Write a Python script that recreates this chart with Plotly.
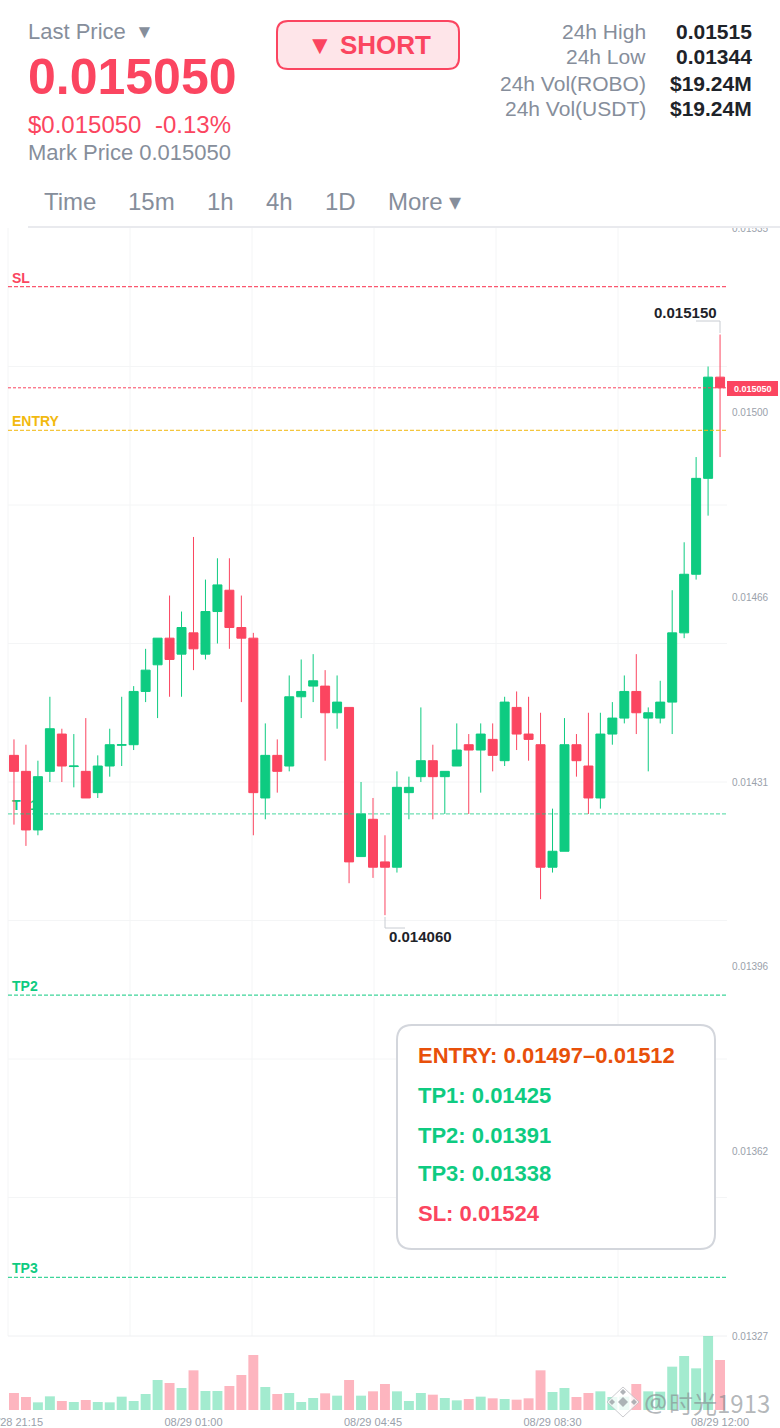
"""
ROBO/USDT 15m candles with short-signal levels, phone screenshot layout.
Output: out.html
"""

import pandas as pd
import plotly.graph_objects as go
from plotly.subplots import make_subplots

W, H = 780, 1428

# ── Palette ──────────────────────────────────────────────────
UP = '#0ecb81'
DOWN = '#fb4560'
UP_VOL = 'rgba(14,203,129,0.38)'
DOWN_VOL = 'rgba(251,69,96,0.40)'
YELLOW = '#f2b90f'
ORANGE = '#e8500a'
GRAY = '#868e9b'
AXIS_GRAY = '#9aa1ab'
DARK = '#1e2329'
GRID = '#f4f5f6'
FONT = 'Liberation Sans'

# ── Data ─────────────────────────────────────────────────────
TIMES = pd.date_range('2025-08-28 21:15', periods=60, freq='15min')

OPEN = [
    0.01436, 0.01433, 0.01422, 0.01433, 0.01440, 0.014339, 0.01433, 0.01429, 0.01434, 0.014379,
    0.01438, 0.01448, 0.01453, 0.01458, 0.01455, 0.01459, 0.01455, 0.01463, 0.01467, 0.01460,
    0.01458, 0.01428, 0.01436, 0.01434, 0.01447, 0.01449, 0.01449, 0.01444, 0.01445, 0.01417,
    0.01424, 0.01416, 0.01415, 0.01429, 0.01432, 0.01435, 0.01432, 0.01434, 0.01438, 0.01437,
    0.01439, 0.01435, 0.01445, 0.01440, 0.01438, 0.01415, 0.01418, 0.01438, 0.01434, 0.01428,
    0.01440, 0.01443, 0.01448, 0.01443, 0.01443, 0.01446, 0.01459, 0.01470, 0.01488, 0.01507,
]
HIGH = [
    0.01439, 0.01438, 0.01435, 0.01447, 0.01441, 0.01440, 0.01443, 0.01436, 0.01441, 0.01447,
    0.01449, 0.01456, 0.01458, 0.01466, 0.01463, 0.01477, 0.01469, 0.01473, 0.01473, 0.01466,
    0.01459, 0.01442, 0.01439, 0.01451, 0.01454, 0.01455, 0.01452, 0.01451, 0.01445, 0.01431,
    0.01428, 0.01421, 0.01433, 0.01432, 0.01445, 0.01438, 0.01433, 0.01442, 0.01440, 0.01442,
    0.01442, 0.01447, 0.01448, 0.01447, 0.01444, 0.01426, 0.01443, 0.01440, 0.01444, 0.01444,
    0.01446, 0.01451, 0.01455, 0.01445, 0.01450, 0.01467, 0.01476, 0.01492, 0.01509, 0.01515,
]
LOW = [
    0.01423, 0.01419, 0.01421, 0.01431, 0.01431, 0.01430, 0.01428, 0.01428, 0.01432, 0.01434,
    0.01437, 0.01446, 0.01443, 0.01447, 0.01447, 0.01452, 0.01454, 0.01457, 0.01456, 0.01446,
    0.01421, 0.01424, 0.01429, 0.01433, 0.01443, 0.01446, 0.01435, 0.01441, 0.01412, 0.01417,
    0.01413, 0.01406, 0.01414, 0.01424, 0.01431, 0.01424, 0.01425, 0.01434, 0.01425, 0.01429,
    0.01433, 0.01434, 0.01437, 0.01435, 0.01409, 0.01414, 0.01418, 0.01432, 0.01425, 0.01426,
    0.01438, 0.01442, 0.01440, 0.01433, 0.01442, 0.01440, 0.01458, 0.01469, 0.01481, 0.01492,
]
CLOSE = [
    0.01433, 0.01422, 0.01432, 0.01441, 0.01434, 0.01434, 0.01428, 0.01434, 0.01438, 0.01438,
    0.01448, 0.01452, 0.01458, 0.01454, 0.01460, 0.01456, 0.01463, 0.01468, 0.01460, 0.01458,
    0.01429, 0.01436, 0.01433, 0.01447, 0.01448, 0.01450, 0.01444, 0.01446, 0.01416, 0.01425,
    0.01415, 0.01415, 0.01430, 0.01430, 0.01435, 0.01432, 0.01433, 0.01437, 0.01437, 0.01440,
    0.01436, 0.01446, 0.01440, 0.01439, 0.01415, 0.01418, 0.01438, 0.01435, 0.01428, 0.01440,
    0.01443, 0.01448, 0.01444, 0.01444, 0.01446, 0.01459, 0.01470, 0.01488, 0.01507, 0.01505,
]
VOLUME = [
    51, 39, 23, 41, 27, 24, 30, 24, 23, 40,
    27, 48, 90, 81, 66, 119, 57, 57, 72, 105,
    165, 69, 48, 51, 24, 36, 50, 43, 90, 43,
    56, 78, 56, 27, 51, 46, 36, 29, 33, 40,
    35, 33, 31, 35, 119, 54, 66, 39, 51, 56,
    39, 40, 78, 56, 55, 130, 162, 125, 222, 150,
]

# axis labels are rounded, the ticks themselves sit evenly between min and max
PRICE_TICKS = [0.01327, 0.013617, 0.013963, 0.01431, 0.014657, 0.015003, 0.01535]
GRID_PRICES = [0.01353, 0.01379, 0.01405, 0.01431, 0.01457, 0.01483, 0.01509]
GRID_X_PX = [8, 130, 252, 374, 496, 618]
TIME_TICKS = [TIMES[0], TIMES[15], TIMES[30], TIMES[45], TIMES[59]]

LEVELS = [
    ('SL', 0.01524, DOWN, 0.9),
    ('ENTRY', 0.01497, YELLOW, 0.8),
    ('TP1', 0.01425, UP, 0.6),
    ('TP2', 0.01391, UP, 0.8),
    ('TP3', 0.01338, UP, 0.8),
]
LAST_PRICE = 0.01505

STATS = [
    ('24h High', '0.01515'),
    ('24h Low', '0.01344'),
    ('24h Vol(ROBO)', '$19.24M'),
    ('24h Vol(USDT)', '$19.24M'),
]
TABS = [('Time', 44), ('15m', 128), ('1h', 207), ('4h', 266), ('1D', 325), ('More ▾', 388)]
PANEL_ROWS = [
    ('ENTRY: 0.01497–0.01512', ORANGE, 1055),
    ('TP1: 0.01425', UP, 1095),
    ('TP2: 0.01391', UP, 1135),
    ('TP3: 0.01338', UP, 1173),
    ('SL: 0.01524', DOWN, 1213),
]


def fx(x):
    return x / W


def fy(y):
    return 1 - y / H


def rounded_rect(x0, y0, x1, y1, r):
    a, b, c, d = fx(x0), fx(x1), fy(y0), fy(y1)
    rx, ry = r / W, r / H
    return (f'M {a + rx} {c} L {b - rx} {c} Q {b} {c} {b} {c - ry} '
            f'L {b} {d + ry} Q {b} {d} {b - rx} {d} '
            f'L {a + rx} {d} Q {a} {d} {a} {d + ry} '
            f'L {a} {c - ry} Q {a} {c} {a + rx} {c} Z')


def polygon(points):
    cmds = ' L '.join(f'{fx(x)} {fy(y)}' for x, y in points)
    return f'M {cmds} Z'


def label(fig, text, x, y, size, color, anchor='left', bold=False, family=FONT):
    fig.add_annotation(
        x=fx(x), y=fy(y), xref='paper', yref='paper',
        text=f'<b>{text}</b>' if bold else text,
        showarrow=False, xanchor=anchor, yanchor='middle',
        xshift=0, yshift=0, borderpad=0, borderwidth=0,
        font=dict(size=size, color=color, family=family),
    )


fig = make_subplots(rows=2, cols=1, shared_xaxes=True, vertical_spacing=0.0)

fig.add_trace(go.Candlestick(
    x=TIMES, open=OPEN, high=HIGH, low=LOW, close=CLOSE,
    increasing=dict(line=dict(color=UP, width=1), fillcolor=UP),
    decreasing=dict(line=dict(color=DOWN, width=1), fillcolor=DOWN),
    whiskerwidth=0, showlegend=False,
), row=1, col=1)

vol_colors = [UP_VOL if c >= o else DOWN_VOL for o, c in zip(OPEN, CLOSE)]
fig.add_trace(go.Bar(
    x=TIMES, y=VOLUME, marker=dict(color=vol_colors, line_width=0), showlegend=False,
), row=2, col=1)

# ── Grid ─────────────────────────────────────────────────────
for p in GRID_PRICES:
    fig.add_shape(type='line', xref='x domain', yref='y', x0=0, x1=1, y0=p, y1=p,
                  line=dict(color=GRID, width=1), layer='below')
for gx in GRID_X_PX:
    fig.add_shape(type='line', xref='paper', yref='paper', x0=fx(gx), x1=fx(gx),
                  y0=fy(228), y1=fy(1336), line=dict(color=GRID, width=1), layer='below')
fig.add_shape(type='line', xref='paper', yref='paper', x0=fx(8), x1=fx(727),
              y0=fy(1336), y1=fy(1336), line=dict(color='#eff0f2', width=1), layer='below')

# ── Signal levels: name sits behind the candles, dashes on top ───
for name, price, color, alpha in LEVELS:
    fig.add_shape(
        type='line', xref='x domain', yref='y', x0=4 / 719, x1=1, y0=price, y1=price,
        line=dict(color='rgba(0,0,0,0)', width=0), layer='below',
        label=dict(text=f'<b>{name}</b>', textposition='start', yanchor='bottom', padding=2,
                   font=dict(size=14, color=color, family=FONT)),
    )
    fig.add_shape(type='line', xref='x domain', yref='y', x0=0, x1=1, y0=price, y1=price,
                  line=dict(color=color, width=1.2, dash='4px,2px'), opacity=alpha, layer='above')
fig.add_shape(type='line', xref='x domain', yref='y', x0=0, x1=1, y0=LAST_PRICE, y1=LAST_PRICE,
              line=dict(color=DOWN, width=1, dash='3px,2px'), layer='above')

# ── Header cover, tab underline, last price tag ──────────────
fig.add_shape(type='rect', xref='paper', yref='paper', x0=0, x1=1, y0=fy(227), y1=1,
              fillcolor='white', line_width=0, layer='above')
fig.add_shape(type='line', xref='paper', yref='paper', x0=fx(28), x1=1, y0=fy(227), y1=fy(227),
              line=dict(color='#e9eaee', width=2), layer='above')
fig.add_shape(type='rect', xref='paper', yref='paper', x0=fx(727), x1=fx(778), y0=fy(381), y1=fy(396),
              fillcolor=DOWN, line_width=0, layer='above')

# ── Short button and levels panel ────────────────────────────
fig.add_shape(type='path', path=rounded_rect(277, 21, 459, 69, 11), xref='paper', yref='paper',
              fillcolor='#fee5e9', line=dict(color=DOWN, width=2), layer='above')
fig.add_shape(type='path', path=rounded_rect(397, 1025, 715, 1249, 15), xref='paper', yref='paper',
              fillcolor='white', line=dict(color='#d3d6dc', width=2), layer='above')

# ── High / low callout elbows ────────────────────────────────
for pts in ([(696, 321), (720, 321), (720, 333)], [(385, 917), (385, 928), (405, 928)]):
    path = 'M ' + ' L '.join(f'{fx(x)} {fy(y)}' for x, y in pts)
    fig.add_shape(type='path', path=path, xref='paper', yref='paper',
                  line=dict(color='#c8ccd2', width=1), layer='above')

# ── Watermark logo ───────────────────────────────────────────
fig.add_shape(type='path', path=polygon([(623, 1387), (639, 1402), (623, 1417), (607, 1402)]),
              xref='paper', yref='paper', fillcolor='rgba(255,255,255,0.8)',
              line=dict(color='rgba(190,190,195,0.8)', width=1), layer='above')
for cx, cy, r in [(623, 1402, 5), (612, 1402, 3), (634, 1402, 3), (623, 1392, 3)]:
    fig.add_shape(type='path', path=polygon([(cx, cy - r), (cx + r, cy), (cx, cy + r), (cx - r, cy)]),
                  xref='paper', yref='paper', fillcolor='rgba(150,155,160,0.75)',
                  line_width=0, layer='above')

# ── Text ─────────────────────────────────────────────────────
label(fig, 'Last Price', 28, 31, 22, GRAY)
label(fig, '▼', 135, 31, 19, GRAY)
label(fig, '0.015050', 28, 77, 50, DOWN, bold=True)
label(fig, '$0.015050', 28, 124, 24, DOWN)
label(fig, '-0.13%', 155, 124, 24, DOWN)
label(fig, 'Mark Price 0.015050', 28, 153, 22, GRAY)
label(fig, '▼ SHORT', 369, 45, 26, DOWN, anchor='center', bold=True)

for i, (name, value) in enumerate(STATS):
    y = 31 + 26 * i
    label(fig, name, 646, y, 21, GRAY, anchor='right')
    label(fig, value, 752, y, 21, DARK, anchor='right', bold=True)

for name, x in TABS:
    label(fig, name, x, 202, 24, GRAY)

label(fig, '0.015150', 685, 312, 15, DARK, anchor='center', bold=True)
label(fig, '0.014060', 420, 936, 15, DARK, anchor='center', bold=True)
label(fig, '0.015050', 752.5, 389, 9, 'white', anchor='center', bold=True)

for text, color, y in PANEL_ROWS:
    label(fig, text, 418, y, 22, color, bold=True)

label(fig, '@', 644, 1402, 26, 'rgba(130,135,140,0.6)', family='Noto Sans')
label(fig, '时光1913', 669, 1402, 24, 'rgba(130,135,140,0.6)', family='Noto Sans CJK SC')

# ── Layout ───────────────────────────────────────────────────
fig.update_layout(
    width=W, height=H, autosize=False,
    margin=dict(l=0, r=0, t=0, b=0),
    paper_bgcolor='white', plot_bgcolor='white',
    showlegend=False, hovermode=False,
    bargap=0.17, boxgap=0.25, boxgroupgap=0,
    font=dict(family=FONT),
)

x_start = TIMES[0] - pd.Timedelta(minutes=7.5)
x_end = TIMES[0] + pd.Timedelta(minutes=15 * 59.58)
for row in (1, 2):
    fig.update_xaxes(domain=[fx(8), fx(727)], range=[x_start, x_end], showgrid=False, zeroline=False,
                     showline=False, automargin=False, row=row, col=1)
fig.update_xaxes(rangeslider_visible=False, showticklabels=False, ticks='', row=1, col=1)
fig.update_xaxes(tickmode='array', tickvals=TIME_TICKS, tickformat='%m/%d %H:%M',
                 ticks='outside', ticklen=2, tickcolor='rgba(0,0,0,0)', tickangle=0,
                 ticklabeloverflow='allow',
                 tickfont=dict(size=11, color=AXIS_GRAY, family=FONT), row=2, col=1)

fig.update_yaxes(domain=[fy(1336), fy(228)], range=[0.01327, 0.01535], side='right',
                 tickmode='array', tickvals=PRICE_TICKS, tickformat='.5f', showgrid=False, zeroline=False,
                 ticks='outside', ticklen=2, tickcolor='rgba(0,0,0,0)',
                 automargin=False, ticklabeloverflow='allow',
                 tickfont=dict(size=10, color=AXIS_GRAY, family=FONT), row=1, col=1)
fig.update_yaxes(domain=[fy(1410), fy(1336)], range=[0, 222], showgrid=False, zeroline=False,
                 automargin=False, showticklabels=False, row=2, col=1)

fig.write_html("out.html", config={'displayModeBar': False},
               post_script="document.body.style.margin='0';")
